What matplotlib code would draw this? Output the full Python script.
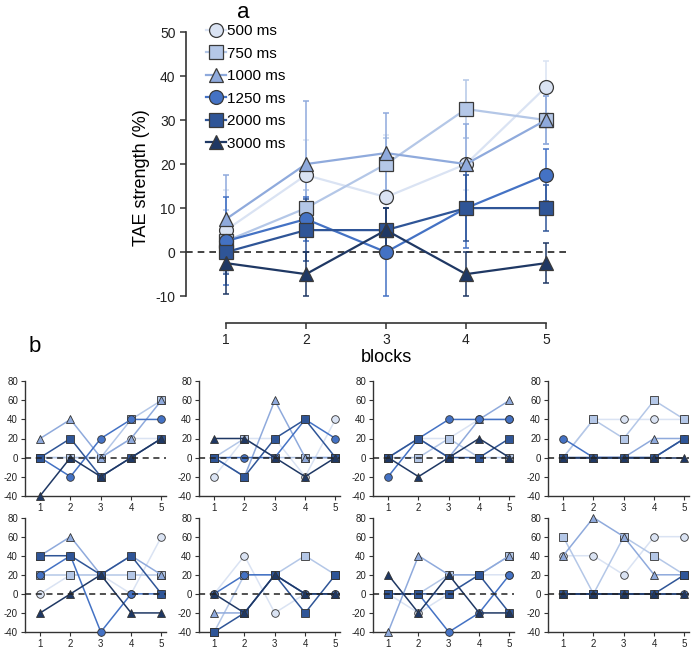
import matplotlib.pyplot as plt

plt.rcParams['font.family'] = ['Liberation Sans', 'DejaVu Sans']
plt.rcParams['axes.unicode_minus'] = False

blocks = [1, 2, 3, 4, 5]
labels = ['500 ms', '750 ms', '1000 ms', '1250 ms', '2000 ms', '3000 ms']
colors = ['#dae3f3', '#b4c7e7', '#8faadc', '#4472c4', '#2f5597', '#1f3864']
markers = ['o', 's', '^', 'o', 's', '^']

# group means (panel a)
mean_500 = [5, 17.5, 12.5, 20, 37.5]
mean_750 = [2.5, 10, 20, 32.5, 30]
mean_1000 = [7.5, 20, 22.5, 20, 30]
mean_1250 = [2.5, 7.5, 0, 10, 17.5]
mean_2000 = [0, 5, 5, 10, 10]
mean_3000 = [-2.5, -5, 5, -5, -2.5]

sem_500 = [9, 8, 14, 6, 6]
sem_750 = [7, 4, 6, 6.5, 5.4]
sem_1000 = [10, 14.3, 9, 9, 5.5]
sem_1250 = [10, 5, 10, 9, 6]
sem_2000 = [5, 7, 5, 7.5, 5.3]
sem_3000 = [7, 5, 5, 5, 4.5]

# single subjects (panel b), rows: 500, 750, 1000, 1250, 2000, 3000 ms
s1 = [[0, 0, 0, 20, 20], [0, 0, 0, 40, 60], [20, 40, 0, 20, 60],
      [0, -20, 20, 40, 40], [0, 20, -20, 0, 20], [-40, 0, -20, 0, 20]]
s2 = [[-20, 20, 20, -20, 40], [0, 20, 0, 0, 0], [0, -20, 60, 0, 0],
      [0, 0, 0, 40, 20], [0, -20, 20, 40, 0], [20, 20, 0, -20, 0]]
s3 = [[0, 20, 20, 40, 40], [0, 0, 20, 0, 0], [0, 20, 0, 40, 60],
      [-20, 20, 40, 40, 40], [0, 20, 0, 0, 20], [0, -20, 0, 20, 0]]
s4 = [[0, 40, 40, 40, 40], [0, 40, 20, 60, 40], [0, 0, 0, 20, 20],
      [20, 0, 0, 0, 20], [0, 0, 0, 0, 20], [0, 0, 0, 0, 0]]
s5 = [[0, 20, 20, 0, 60], [20, 20, 20, 20, 20], [40, 60, 20, 40, 20],
      [20, 40, -40, 0, 0], [40, 40, 20, 40, 0], [-20, 0, 20, -20, -20]]
s6 = [[0, 40, -20, 0, 0], [-40, 20, 20, 40, 20], [-20, -20, 20, 0, 0],
      [0, 20, 20, 0, 0], [-40, -20, 20, -20, 20], [0, -20, 20, 0, 0]]
s7 = [[0, -20, 0, 20, 20], [0, 0, 20, 20, 40], [-40, 40, 20, 20, 40],
      [0, 0, -40, -20, 20], [0, 0, 0, 20, -20], [20, -20, 20, -20, -20]]
s8 = [[40, 40, 20, 60, 60], [60, 0, 60, 40, 20], [40, 80, 60, 20, 20],
      [0, 0, 0, 0, 0], [0, 0, 0, 0, 20], [0, 0, 0, 0, 0]]

means = [mean_500, mean_750, mean_1000, mean_1250, mean_2000, mean_3000]
sems = [sem_500, sem_750, sem_1000, sem_1250, sem_2000, sem_3000]
subjects = [s1, s2, s3, s4, s5, s6, s7, s8]

W, H = 700, 650
fig = plt.figure(figsize=(7, 6.5), dpi=100)

# ---- panel a ----
ax = fig.add_axes([186 / W, 1 - 323 / H, 384 / W, 291 / H])
ax.axhline(0, color='#222222', ls=(0, (4, 3)), lw=1.2, zorder=1)
for m, s, c in zip(means, sems, colors):
    ax.errorbar(blocks, m, yerr=s, fmt='none', ecolor=c, elinewidth=1.1,
                capsize=2, capthick=1.1, zorder=2)
for m, c, mk, lab in zip(means, colors, markers, labels):
    ax.plot(blocks, m, color=c, marker=mk, ms=10, mfc=c, mec='#3a3a3a',
            mew=0.9, lw=1.6, label=lab, zorder=3)

ax.set_xlim(0.5, 5.3)
ax.set_ylim(-16.1, 50)
ax.set_xticks(blocks)
ax.set_yticks(range(-10, 51, 10))
ax.spines['top'].set_visible(False)
ax.spines['right'].set_visible(False)
ax.spines['left'].set_bounds(-10, 50)
ax.spines['bottom'].set_bounds(1, 5)
for sp in ['left', 'bottom']:
    ax.spines[sp].set_color('#333333')
    ax.spines[sp].set_linewidth(1.2)
ax.tick_params(axis='both', labelsize=10, colors='#333333', length=4,
               width=1.1, labelcolor='#222222')
ax.set_ylabel('TAE strength (%)', fontsize=13, labelpad=4)
ax.legend(loc='upper left', bbox_to_anchor=(206 / W, 1 - 24 / H),
          bbox_transform=fig.transFigure, frameon=False, fontsize=11,
          handlelength=1.3, handletextpad=0.05, labelspacing=0.56,
          borderpad=0, borderaxespad=0)

fig.text(386 / W, 1 - 357 / H, 'blocks', fontsize=13, ha='center', va='center')
fig.text(243 / W, 1 - 13 / H, 'a', fontsize=16, ha='center', va='center')
fig.text(35 / W, 1 - 347 / H, 'b', fontsize=16, ha='center', va='center')

# ---- panel b ----
lefts = [25, 199, 373, 548]
bottoms = [1 - 495.7 / H, 1 - 632 / H]
for i, subj in enumerate(subjects):
    row, col = divmod(i, 4)
    axb = fig.add_axes([lefts[col] / W, bottoms[row], 141 / W, 0.176])
    for vals, c, mk in zip(subj, colors, markers):
        axb.plot(blocks, vals, color=c, marker=mk, ms=5.5, mfc=c, mec='#333333',
                 mew=0.6, lw=1.1, zorder=3, clip_on=False)
    axb.axhline(0, color='#222222', ls=(0, (4, 3)), lw=1.1, zorder=3.5)
    axb.set_xlim(0.5, 5.15)
    axb.set_ylim(-40, 80)
    axb.set_xticks(blocks)
    axb.set_yticks(range(-40, 81, 20))
    axb.spines['top'].set_visible(False)
    axb.spines['right'].set_visible(False)
    for sp in ['left', 'bottom']:
        axb.spines[sp].set_color('#333333')
        axb.spines[sp].set_linewidth(1.0)
    axb.tick_params(axis='both', labelsize=7, length=3, width=0.8,
                    colors='#333333', labelcolor='#222222', pad=2)

fig.savefig('out.png', dpi=100)
